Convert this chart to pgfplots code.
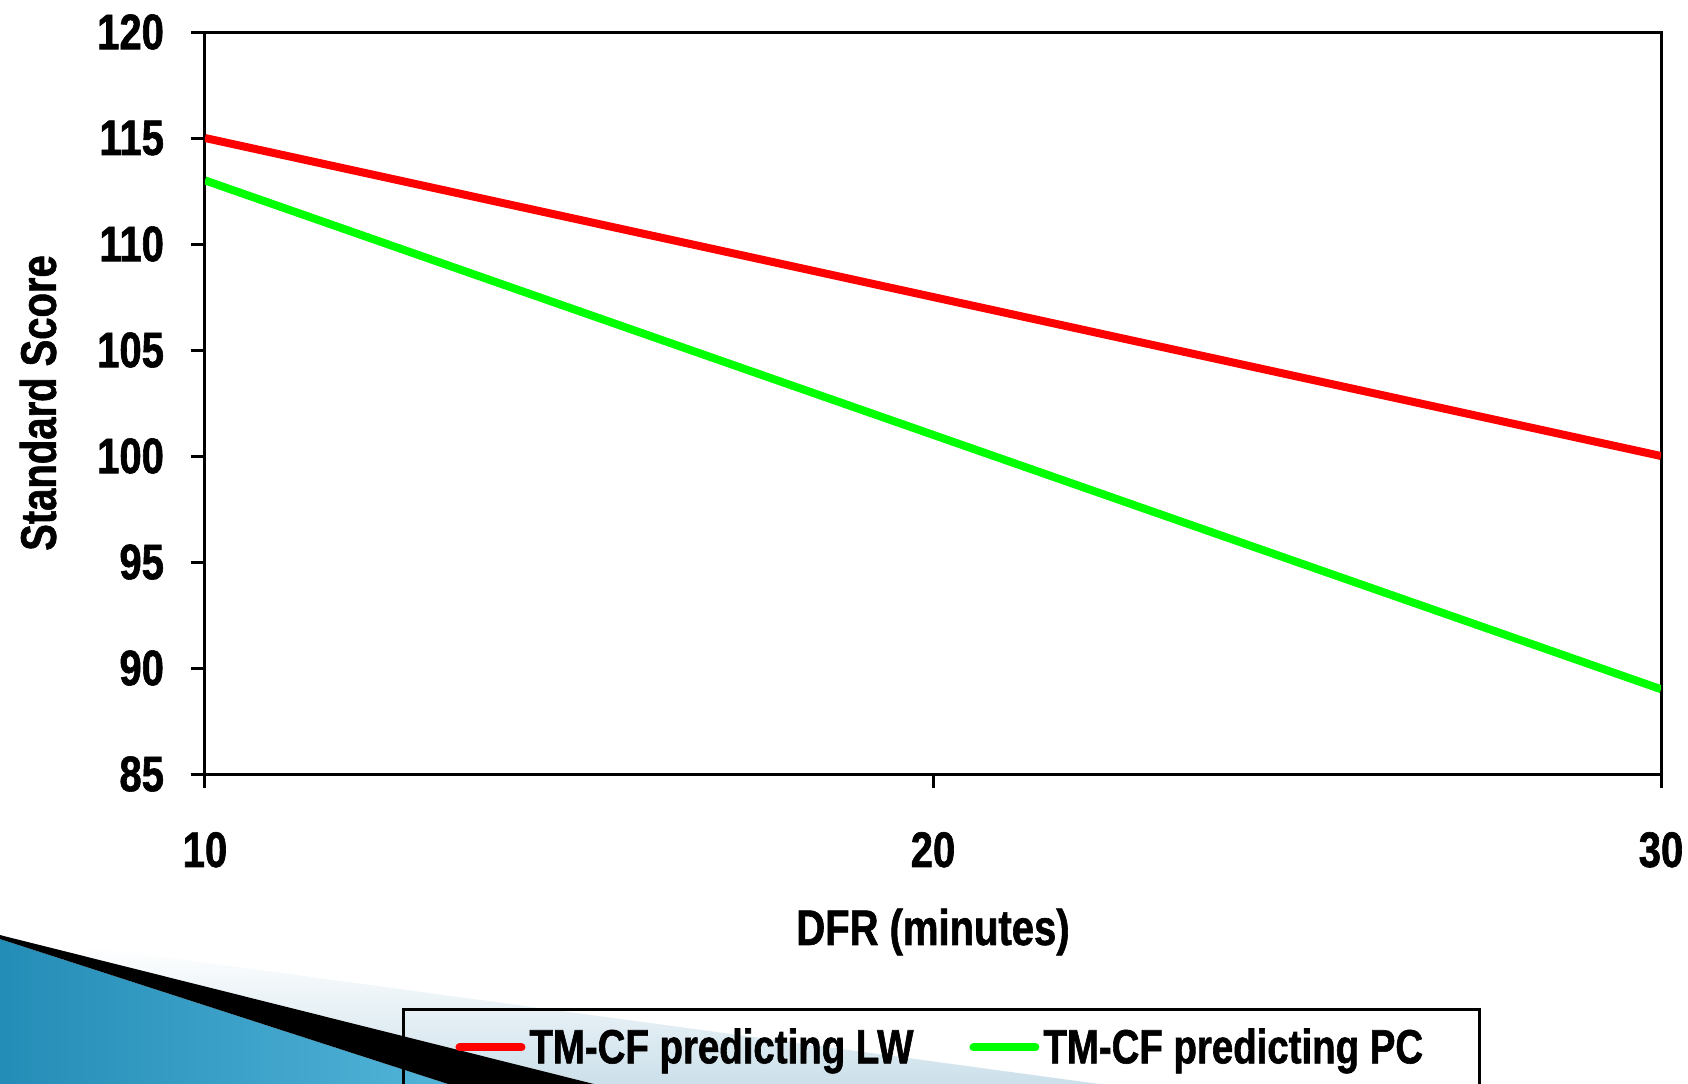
\documentclass[border=0pt]{standalone}
\usepackage{fontspec}
\setmainfont{Liberation Sans}[FakeStretch=0.8, BoldFeatures={FakeBold=1.2}]
\usepackage{pgfplots}
\pgfplotsset{compat=1.18}
\definecolor{swblue1}{RGB}{35,140,182}
\definecolor{swblue2}{RGB}{85,182,218}
\definecolor{swlight}{RGB}{200,222,233}
\pgfplotstableread{
x y
10 115
20 107.5
30 100
}\lw
\pgfplotstableread{
x y
10 113
20 101
30 89
}\pc
\begin{document}
\begin{tikzpicture}
\useasboundingbox (-102.5pt,-154.5pt) rectangle (741.5pt,387pt);
\clip (-102.5pt,-154.5pt) rectangle (741.5pt,387pt);
% slide decoration
\shade[top color=white, bottom color=swlight] (-61pt,-86pt) -- (484pt,-160pt) -- (214.4pt,-160pt) -- (-61pt,-90.9pt) -- cycle;
\shade[left color=swblue1, right color=swblue2] (-105pt,-81.7pt) -- (137pt,-160pt) -- (-105pt,-160pt) -- cycle;
\fill[black] (-105pt,-79.9pt) -- (214.4pt,-160pt) -- (137pt,-160pt) -- (-105pt,-81.7pt) -- cycle;
\begin{axis}[
  at={(0pt,0pt)}, anchor=south west,
  scale only axis, width=728pt, height=371pt,
  xmin=10, xmax=30, ymin=85, ymax=120,
  xtick={10,20,30}, ytick={85,90,...,120},
  axis line style={line width=1.5pt},
  tick style={line width=1.5pt, black},
  major tick length=7pt,
  tick align=outside,
  xtick pos=bottom, ytick pos=left,
  /pgf/number format/assume math mode=true,
  tick label style={font=\fontsize{25}{30}\selectfont\bfseries},
  yticklabel style={xshift=-10pt},
  xticklabel style={yshift=-18.5pt},
  xlabel={DFR (minutes)},
  ylabel={Standard Score},
  label style={font=\fontsize{25}{30}\selectfont\bfseries},
  xlabel style={at={(0.5,-0.213)}, anchor=center},
  ylabel style={at={(-0.1147,0.5)}, anchor=center, rotate=0},
  legend columns=2,
  legend style={at={(0.1353,-0.3154)}, anchor=north west, draw=black, line width=1.5pt, fill=none,
    font=\fontsize{24}{29}\selectfont\bfseries, inner xsep=26pt, inner ysep=7.5pt,
    /tikz/every even column/.append style={column sep=26pt}},
  legend image code/.code={\draw[#1, line width=4pt, line cap=round] (0pt,0pt) -- (31pt,0pt);},
  legend cell align=left,
]
\addplot[color={rgb,255:red,255;green,0;blue,0}, line width=4pt] table[x=x,y=y] {\lw};
\addlegendentry{TM-CF predicting LW}
\addplot[color={rgb,255:red,0;green,255;blue,0}, line width=4pt] table[x=x,y=y] {\pc};
\addlegendentry{TM-CF predicting PC}
\end{axis}
\end{tikzpicture}
\end{document}
